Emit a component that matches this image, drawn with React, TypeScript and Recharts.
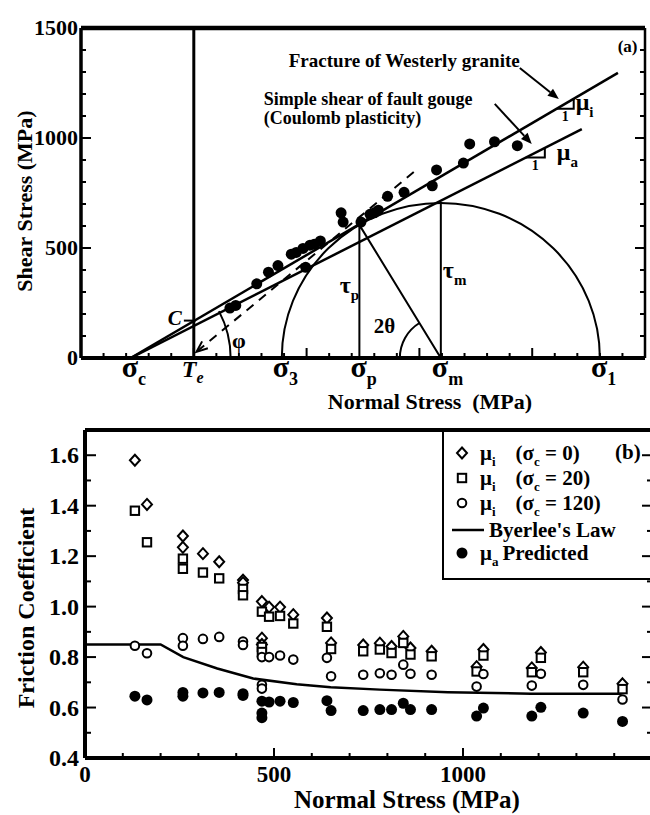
import React from 'react';
import {
  ComposedChart,
  Scatter,
  Line,
  XAxis,
  YAxis,
  ReferenceLine,
  ReferenceDot,
  ReferenceArea,
  Legend,
} from 'recharts';

const FONT = '"Liberation Serif", "Times New Roman", serif';
const INK = '#000';

// ---------- panel (a): Mohr-Coulomb construction ----------
const normalTicksA = [-500, -400, -300, -200, -100, 0, 100, 200, 300, 400, 500, 600, 700, 800, 900, 1000, 1100, 1200, 1300, 1400, 1500, 1600, 1700, 1800, 1900, 2000];
const normalMajorsA = [-500, 0, 500, 1000, 1500, 2000];
const normalLabelsA = [0, 500, 1000, 1500];
const shearTicks = [0, 100, 200, 300, 400, 500, 600, 700, 800, 900, 1000, 1100, 1200, 1300, 1400, 1500];
const shearLabels = [0, 500, 1000, 1500];

// measured failure points (normal stress, shear stress) in MPa
const graniteData = [
  { s: 160, tau: 227 }, { s: 186, tau: 239 }, { s: 279, tau: 337 }, { s: 331, tau: 390 },
  { s: 373, tau: 420 }, { s: 432, tau: 472 }, { s: 454, tau: 480 }, { s: 484, tau: 498 },
  { s: 515, tau: 513 }, { s: 534, tau: 517 }, { s: 561, tau: 532 }, { s: 496, tau: 412 },
  { s: 653, tau: 660 }, { s: 662, tau: 618 }, { s: 741, tau: 618 }, { s: 781, tau: 653 },
  { s: 800, tau: 660 }, { s: 818, tau: 672 }, { s: 859, tau: 735 }, { s: 932, tau: 753 },
  { s: 1057, tau: 783 }, { s: 1076, tau: 855 }, { s: 1195, tau: 886 }, { s: 1223, tau: 973 },
  { s: 1333, tau: 983 }, { s: 1434, tau: 965 },
];

const graniteFit = [{ s: -280, tau: 0 }, { s: 1880, tau: 1296 }];
const gougeFit = [{ s: -280, tau: 0 }, { s: 1720, tau: 1040 }];
const tangentFit = [{ s: 975, tau: 845 }, { s: 12, tau: 28 }];
const slopeTriI = [{ s: 1609, tau: 1133 }, { s: 1684, tau: 1133 }, { s: 1684, tau: 1178 }];
const slopeTriA = [{ s: 1472, tau: 911 }, { s: 1556, tau: 911 }, { s: 1556, tau: 955 }];

const sigmaC = -280;
const sigma3 = 390;
const sigma1 = 1800;
const sigmaM = 1095;
const tauM = 705;
const sigmaP = 734;
const tauP = 605;
const cohesion = 170;

const construction = [
  { s: sigmaP, tau: 0 }, { s: sigmaP, tau: tauP }, { s: sigmaM, tau: 0 }, { s: sigmaM, tau: tauM },
];

const stressMarks = [
  { key: 'c', s: sigmaC, sym: 'σ', sub: 'c' },
  { key: 'e', s: 0, sym: 'T', sub: 'e' },
  { key: '3', s: sigma3, sym: 'σ', sub: '3' },
  { key: 'p', s: sigmaP, sym: 'σ', sub: 'p' },
  { key: 'm', s: sigmaM, sym: 'σ', sub: 'm' },
  { key: '1', s: sigma1, sym: 'σ', sub: '1' },
];

// ---------- panel (b): friction coefficients ----------
const normalTicksB = [0, 100, 200, 300, 400, 500, 600, 700, 800, 900, 1000, 1100, 1200, 1300, 1400, 1500];
const normalLabelsB = [0, 500, 1000, 1500];
const muTicks = [0.4, 0.5, 0.6, 0.7, 0.8, 0.9, 1.0, 1.1, 1.2, 1.3, 1.4, 1.5, 1.6, 1.7];
const muLabels = [0.4, 0.6, 0.8, 1.0, 1.2, 1.4, 1.6];

const muI0 = [
  { s: 132, mu: 1.58 }, { s: 164, mu: 1.405 }, { s: 259, mu: 1.28 }, { s: 259, mu: 1.235 },
  { s: 312, mu: 1.21 }, { s: 355, mu: 1.178 }, { s: 418, mu: 1.105 }, { s: 418, mu: 1.095 },
  { s: 468, mu: 1.02 }, { s: 468, mu: 0.875 }, { s: 468, mu: 0.85 }, { s: 487, mu: 0.998 },
  { s: 516, mu: 0.998 }, { s: 551, mu: 0.968 }, { s: 640, mu: 0.955 }, { s: 651, mu: 0.856 },
  { s: 736, mu: 0.848 }, { s: 780, mu: 0.855 }, { s: 811, mu: 0.842 }, { s: 842, mu: 0.882 },
  { s: 861, mu: 0.836 }, { s: 917, mu: 0.823 }, { s: 1036, mu: 0.762 }, { s: 1054, mu: 0.83 },
  { s: 1182, mu: 0.757 }, { s: 1206, mu: 0.818 }, { s: 1318, mu: 0.76 }, { s: 1422, mu: 0.694 },
];
const muI20 = [
  { s: 132, mu: 1.38 }, { s: 164, mu: 1.255 }, { s: 259, mu: 1.19 }, { s: 259, mu: 1.15 },
  { s: 312, mu: 1.135 }, { s: 355, mu: 1.112 }, { s: 418, mu: 1.07 }, { s: 418, mu: 1.045 },
  { s: 468, mu: 0.98 }, { s: 468, mu: 0.84 }, { s: 468, mu: 0.82 }, { s: 487, mu: 0.96 },
  { s: 516, mu: 0.963 }, { s: 551, mu: 0.933 }, { s: 640, mu: 0.92 }, { s: 651, mu: 0.832 },
  { s: 736, mu: 0.823 }, { s: 780, mu: 0.83 }, { s: 811, mu: 0.816 }, { s: 842, mu: 0.856 },
  { s: 861, mu: 0.81 }, { s: 917, mu: 0.803 }, { s: 1036, mu: 0.743 }, { s: 1054, mu: 0.806 },
  { s: 1182, mu: 0.74 }, { s: 1206, mu: 0.797 }, { s: 1318, mu: 0.74 }, { s: 1422, mu: 0.673 },
];
const muI120 = [
  { s: 132, mu: 0.845 }, { s: 164, mu: 0.815 }, { s: 259, mu: 0.875 }, { s: 259, mu: 0.845 },
  { s: 312, mu: 0.872 }, { s: 355, mu: 0.88 }, { s: 418, mu: 0.862 }, { s: 418, mu: 0.848 },
  { s: 468, mu: 0.8 }, { s: 468, mu: 0.69 }, { s: 468, mu: 0.675 }, { s: 487, mu: 0.8 },
  { s: 516, mu: 0.806 }, { s: 551, mu: 0.79 }, { s: 640, mu: 0.797 }, { s: 651, mu: 0.724 },
  { s: 736, mu: 0.73 }, { s: 780, mu: 0.736 }, { s: 811, mu: 0.73 }, { s: 842, mu: 0.77 },
  { s: 861, mu: 0.734 }, { s: 917, mu: 0.73 }, { s: 1036, mu: 0.683 }, { s: 1054, mu: 0.733 },
  { s: 1182, mu: 0.687 }, { s: 1206, mu: 0.734 }, { s: 1318, mu: 0.69 }, { s: 1422, mu: 0.632 },
];
const muA = [
  { s: 132, mu: 0.645 }, { s: 164, mu: 0.63 }, { s: 259, mu: 0.66 }, { s: 259, mu: 0.645 },
  { s: 312, mu: 0.658 }, { s: 355, mu: 0.66 }, { s: 418, mu: 0.655 }, { s: 418, mu: 0.648 },
  { s: 468, mu: 0.625 }, { s: 468, mu: 0.578 }, { s: 468, mu: 0.56 }, { s: 487, mu: 0.622 },
  { s: 516, mu: 0.625 }, { s: 551, mu: 0.62 }, { s: 640, mu: 0.627 }, { s: 651, mu: 0.588 },
  { s: 736, mu: 0.588 }, { s: 780, mu: 0.592 }, { s: 811, mu: 0.592 }, { s: 842, mu: 0.617 },
  { s: 861, mu: 0.592 }, { s: 917, mu: 0.592 }, { s: 1036, mu: 0.566 }, { s: 1054, mu: 0.598 },
  { s: 1182, mu: 0.566 }, { s: 1206, mu: 0.601 }, { s: 1318, mu: 0.578 }, { s: 1422, mu: 0.545 },
];
const byerlee = [
  { s: 0, mu: 0.85 }, { s: 200, mu: 0.85 }, { s: 260, mu: 0.8 }, { s: 350, mu: 0.755 },
  { s: 445, mu: 0.715 }, { s: 560, mu: 0.692 }, { s: 650, mu: 0.68 }, { s: 780, mu: 0.671 },
  { s: 960, mu: 0.661 }, { s: 1180, mu: 0.655 }, { s: 1420, mu: 0.655 },
];

// ---------- helpers ----------
const txt = (size: number, extra: any = {}) => ({
  fontFamily: FONT, fontWeight: 700, fontSize: size, fill: INK, ...extra,
});

const near = (arr: number[], v: number) => arr.some((m) => Math.abs(m - v) < 1e-6);

type Side = 'left' | 'right' | 'top' | 'bottom';

function makeTick(side: Side, cfg: any) {
  const { majors, labels = [], fmt = String, fontSize = 22, gap = 3, major = 10, minor = 5 } = cfg;
  return (props: any) => {
    const x = Number(props.x);
    const y = Number(props.y);
    const v = props.payload.value;
    const len = near(majors, v) ? major : minor;
    const dx = side === 'left' ? len : side === 'right' ? -len : 0;
    const dy = side === 'top' ? len : side === 'bottom' ? -len : 0;
    let label = null;
    if (near(labels, v)) {
      if (side === 'left') {
        label = <text {...txt(fontSize)} x={x - gap} y={y + fontSize * 0.34} textAnchor="end">{fmt(v)}</text>;
      } else if (side === 'top') {
        label = <text {...txt(fontSize)} x={x} y={y - gap} textAnchor="middle">{fmt(v)}</text>;
      } else if (side === 'bottom') {
        label = <text {...txt(fontSize)} x={x} y={y + gap} textAnchor="middle">{fmt(v)}</text>;
      }
    }
    return (
      <g>
        <line x1={x} y1={y} x2={x + dx} y2={y + dy} stroke={INK} strokeWidth={2} />
        {label}
      </g>
    );
  };
}

function note(key: string, s: number, tau: number, render: (cx: number, cy: number) => React.ReactElement) {
  return (
    <ReferenceDot key={key} x={s} y={tau} r={0} ifOverflow="visible" shape={(p: any) => render(p.cx, p.cy)} />
  );
}

const arrowShape = (dashed: boolean, open: boolean) => (p: any) => {
  const { x1, y1, x2, y2 } = p;
  const a = Math.atan2(y2 - y1, x2 - x1);
  const L = 11;
  const W = 4.5;
  const bx = x2 - L * Math.cos(a);
  const by = y2 - L * Math.sin(a);
  const lx = bx + W * Math.sin(a);
  const ly = by - W * Math.cos(a);
  const rx = bx - W * Math.sin(a);
  const ry = by + W * Math.cos(a);
  return (
    <g>
      <line x1={x1} y1={y1} x2={open ? x2 : bx} y2={open ? y2 : by} stroke={INK} strokeWidth={2}
        strokeDasharray={dashed ? '9 7' : undefined} />
      {open
        ? <polyline points={`${lx},${ly} ${x2},${y2} ${rx},${ry}`} fill="none" stroke={INK} strokeWidth={2} />
        : <polygon points={`${lx},${ly} ${x2},${y2} ${rx},${ry}`} fill={INK} />}
    </g>
  );
};

const mohrArc = (p: any) => (
  <path
    d={`M${p.x},${p.y + p.height} A${p.width / 2},${p.height} 0 0 1 ${p.x + p.width},${p.y + p.height}`}
    fill="none" stroke={INK} strokeWidth={2}
  />
);

const solidDot = (r: number) => (p: any) => <circle cx={p.cx} cy={p.cy} r={r} fill={INK} />;
const Diamond = (p: any) => (
  <path d={`M${p.cx},${p.cy - 5.5}L${p.cx + 5},${p.cy}L${p.cx},${p.cy + 5.5}L${p.cx - 5},${p.cy}Z`}
    fill="#fff" stroke={INK} strokeWidth={2} />
);
const Square = (p: any) => (
  <rect x={p.cx - 4.2} y={p.cy - 4.2} width={8.4} height={8.4} fill="#fff" stroke={INK} strokeWidth={2} />
);
const OpenCircle = (p: any) => <circle cx={p.cx} cy={p.cy} r={4.3} fill="#fff" stroke={INK} strokeWidth={2} />;

// ---------- panel (a) ----------
function PanelA() {
  return (
    <ComposedChart width={650} height={420} margin={{ top: 0, right: 0, bottom: 0, left: 0 }}>
      <XAxis dataKey="s" type="number" domain={[-500, 2000]} allowDataOverflow ticks={normalTicksA} interval={0}
        height={62} tickSize={0} tickMargin={0} tickLine={false} axisLine={{ stroke: INK, strokeWidth: 4 }}
        tick={makeTick('bottom', { majors: normalMajorsA })}
        label={() => (
          <text {...txt(22)} x={430} y={409} textAnchor="middle" style={{ whiteSpace: 'pre' }}>Normal Stress  (MPa)</text>
        )} />
      <XAxis xAxisId="top" orientation="top" type="number" domain={[-500, 2000]} allowDataOverflow ticks={normalTicksA}
        interval={0} height={28} tickSize={0} tickMargin={0} tickLine={false} axisLine={{ stroke: INK, strokeWidth: 4.5 }}
        tick={makeTick('top', { majors: normalMajorsA, labels: normalLabelsA, gap: 4 })} />
      <YAxis type="number" domain={[0, 1500]} allowDataOverflow ticks={shearTicks} interval={0} width={81}
        tickSize={0} tickMargin={0} tickLine={false} axisLine={{ stroke: INK, strokeWidth: 3.5 }}
        tick={makeTick('left', { majors: shearLabels, labels: shearLabels, gap: 3 })}
        label={() => (
          <text {...txt(22)} transform="translate(24,201) rotate(-90)" textAnchor="middle" dominantBaseline="central">
            Shear Stress (MPa)
          </text>
        )} />
      <YAxis yAxisId="right" orientation="right" type="number" domain={[0, 1500]} allowDataOverflow ticks={shearTicks}
        interval={0} width={5} tickSize={0} tickMargin={0} tickLine={false} axisLine={{ stroke: INK, strokeWidth: 2.5 }}
        tick={makeTick('right', { majors: shearLabels })} />

      <ReferenceLine x={0} stroke={INK} strokeWidth={3} />
      <ReferenceArea x1={sigma3} x2={sigma1} y1={0} y2={tauM} ifOverflow="visible" shape={mohrArc} />
      <Line data={construction} dataKey="tau" stroke={INK} strokeWidth={2} dot={false} activeDot={false} isAnimationActive={false} />
      <Line data={graniteFit} dataKey="tau" stroke={INK} strokeWidth={2.5} dot={false} activeDot={false} isAnimationActive={false} />
      <Line data={gougeFit} dataKey="tau" stroke={INK} strokeWidth={2.5} dot={false} activeDot={false} isAnimationActive={false} />
      <Line data={slopeTriI} dataKey="tau" stroke={INK} strokeWidth={2} dot={false} activeDot={false} isAnimationActive={false} />
      <Line data={slopeTriA} dataKey="tau" stroke={INK} strokeWidth={2} dot={false} activeDot={false} isAnimationActive={false} />
      <ReferenceLine segment={[{ x: tangentFit[0].s, y: tangentFit[0].tau }, { x: tangentFit[1].s, y: tangentFit[1].tau }]}
        shape={arrowShape(true, true)} />
      <ReferenceLine segment={[{ x: -44, y: cohesion }, { x: 8, y: cohesion }]} stroke={INK} strokeWidth={2} />
      <ReferenceLine segment={[{ x: 1445, y: 1318 }, { x: 1618, y: 1177 }]} shape={arrowShape(false, false)} />
      <ReferenceLine segment={[{ x: 1334, y: 1155 }, { x: 1498, y: 973 }]} shape={arrowShape(false, false)} />

      {note('phiArc', sigmaC, 0, (cx, cy) => (
        <path d={`M${cx + 100},${cy} A100,100 0 0 0 ${cx + 88.3},${cy - 46.9}`} fill="none" stroke={INK} strokeWidth={2} />
      ))}
      {note('thetaArc', sigmaM, 0, (cx, cy) => (
        <path d={`M${cx - 41},${cy} A41,41 0 0 1 ${cx - 21.4},${cy - 35}`} fill="none" stroke={INK} strokeWidth={2} />
      ))}

      <Scatter data={graniteData} dataKey="tau" shape={solidDot(5.5)} isAnimationActive={false} />

      {stressMarks.map((m) => note(`mark-${m.key}`, m.s, 0, (cx, cy) => (
        m.sym === 'T'
          ? <text {...txt(24, { fontStyle: 'italic' })} x={cx - 12} y={cy + 19}>T<tspan fontSize={16} dy={6}>{m.sub}</tspan></text>
          : <text {...txt(30)} x={cx - 9} y={cy + 19}>{m.sym}<tspan fontSize={18} dy={8}>{m.sub}</tspan></text>
      )))}

      {note('frac', 421, 1323, (cx, cy) => <text {...txt(19)} x={cx} y={cy}>Fracture of Westerly granite</text>)}
      {note('gouge', 310, 1150, (cx, cy) => <text {...txt(18)} x={cx} y={cy}>Simple shear of fault gouge</text>)}
      {note('coul', 310, 1062, (cx, cy) => <text {...txt(18)} x={cx} y={cy}>(Coulomb plasticity)</text>)}
      {note('a', 1879, 1391, (cx, cy) => <text {...txt(17)} x={cx} y={cy}>(a)</text>)}
      {note('C', -84, 150, (cx, cy) => <text {...txt(21, { fontStyle: 'italic' })} x={cx} y={cy} textAnchor="middle">C</text>)}
      {note('phi', 200, 45, (cx, cy) => <text {...txt(22)} x={cx} y={cy} textAnchor="middle">φ</text>)}
      {note('taup', 647, 295, (cx, cy) => <text {...txt(24)} x={cx} y={cy}>τ<tspan fontSize={15} dy={7}>p</tspan></text>)}
      {note('taum', 1104, 364, (cx, cy) => <text {...txt(24)} x={cx} y={cy}>τ<tspan fontSize={15} dy={7}>m</tspan></text>)}
      {note('theta', 798, 114, (cx, cy) => <text {...txt(21)} x={cx} y={cy}>2θ</text>)}
      {note('mui', 1693, 1127, (cx, cy) => <text {...txt(24)} x={cx} y={cy}>μ<tspan fontSize={15} dy={7}>i</tspan></text>)}
      {note('mua', 1609, 900, (cx, cy) => <text {...txt(24)} x={cx} y={cy}>μ<tspan fontSize={15} dy={7}>a</tspan></text>)}
      {note('onei', 1646, 1077, (cx, cy) => <text {...txt(14)} x={cx} y={cy} textAnchor="middle">1</text>)}
      {note('onea', 1514, 855, (cx, cy) => <text {...txt(14)} x={cx} y={cy} textAnchor="middle">1</text>)}
    </ComposedChart>
  );
}

// ---------- panel (b) ----------
const sub = (t: string) => <span style={{ fontSize: 13, position: 'relative', top: 6 }}>{t}</span>;

function LegendBox() {
  const icon = (kind: string) => {
    if (kind === 'line') {
      return <svg width={32} height={24}><line x1={0} y1={12} x2={32} y2={12} stroke={INK} strokeWidth={2.5} /></svg>;
    }
    return (
      <svg width={24} height={24}>
        {kind === 'diamond' && <path d="M12,6.5L17,12L12,17.5L7,12Z" fill="#fff" stroke={INK} strokeWidth={2} />}
        {kind === 'square' && <rect x={7.8} y={7.8} width={8.4} height={8.4} fill="#fff" stroke={INK} strokeWidth={2} />}
        {kind === 'circle' && <circle cx={12} cy={12} r={4.3} fill="#fff" stroke={INK} strokeWidth={2} />}
        {kind === 'dot' && <circle cx={12} cy={12} r={5.5} fill={INK} />}
      </svg>
    );
  };
  const row = (top: number, kind: string, body: React.ReactNode, textLeft = 36) => (
    <div style={{ position: 'absolute', left: 0, top, width: 220, height: 24 }}>
      <div style={{ position: 'absolute', left: kind === 'line' ? 8 : 6, top: 0, height: 24 }}>{icon(kind)}</div>
      <div style={{ position: 'absolute', left: textLeft, top: 0, lineHeight: '24px', whiteSpace: 'pre' }}>{body}</div>
    </div>
  );
  return (
    <div style={{
      position: 'relative', width: 220, height: 150, boxSizing: 'border-box', border: '2.5px solid #000',
      borderRight: 'none', fontFamily: FONT, fontWeight: 700, fontSize: 21, color: INK,
    }}>
      {row(9, 'diamond', <span>μ{sub('i')}<span style={{ marginLeft: 20 }}>(σ{sub('c')} = 0)</span></span>)}
      {row(34, 'square', <span>μ{sub('i')}<span style={{ marginLeft: 20 }}>(σ{sub('c')} = 20)</span></span>)}
      {row(59, 'circle', <span>μ{sub('i')}<span style={{ marginLeft: 20 }}>(σ{sub('c')} = 120)</span></span>)}
      {row(86, 'line', <span>Byerlee's Law</span>, 45)}
      {row(109, 'dot', <span>μ{sub('a')}<span style={{ marginLeft: 4 }}>Predicted</span></span>)}
      <div style={{ position: 'absolute', left: 171, top: 8, lineHeight: '24px' }}>(b)</div>
    </div>
  );
}

function PanelB() {
  return (
    <ComposedChart width={660} height={395} margin={{ top: 0, right: 0, bottom: 0, left: 0 }}>
      <XAxis dataKey="s" type="number" domain={[0, 1500]} allowDataOverflow ticks={normalTicksB} interval={0}
        height={57} tickSize={0} tickMargin={0} tickLine={false} axisLine={{ stroke: INK, strokeWidth: 4 }}
        tick={makeTick('bottom', { majors: normalLabelsB, labels: [0, 500, 1000], gap: 24, fontSize: 23 })}
        label={() => (
          <text {...txt(25)} x={407} y={388} textAnchor="middle">Normal Stress (MPa)</text>
        )} />
      <XAxis xAxisId="top" orientation="top" type="number" domain={[0, 1500]} allowDataOverflow ticks={normalTicksB}
        interval={0} height={10} tickSize={0} tickMargin={0} tickLine={false} axisLine={{ stroke: INK, strokeWidth: 4 }}
        tick={makeTick('top', { majors: normalLabelsB })} />
      <YAxis type="number" domain={[0.4, 1.7]} allowDataOverflow ticks={muTicks} interval={0} width={85}
        tickSize={0} tickMargin={0} tickLine={false} axisLine={{ stroke: INK, strokeWidth: 4 }}
        tick={makeTick('left', {
          majors: muLabels, labels: muLabels, fmt: (v: number) => v.toFixed(1), gap: 6, fontSize: 24, major: 11, minor: 6,
        })}
        label={() => (
          <text {...txt(24)} transform="translate(26,188) rotate(-90)" textAnchor="middle" dominantBaseline="central">
            Friction Coefficient
          </text>
        )} />
      <YAxis yAxisId="right" orientation="right" type="number" domain={[0.4, 1.7]} allowDataOverflow ticks={muTicks}
        interval={0} width={8} tickSize={0} tickMargin={0} tickLine={false} axisLine={{ stroke: INK, strokeWidth: 3 }}
        tick={makeTick('right', { majors: muLabels })} />

      <Line data={byerlee} dataKey="mu" stroke={INK} strokeWidth={2.5} dot={false} activeDot={false} isAnimationActive={false} />
      <Scatter data={muI0} dataKey="mu" shape={Diamond} isAnimationActive={false} />
      <Scatter data={muI20} dataKey="mu" shape={Square} isAnimationActive={false} />
      <Scatter data={muI120} dataKey="mu" shape={OpenCircle} isAnimationActive={false} />
      <Scatter data={muA} dataKey="mu" shape={solidDot(5.5)} isAnimationActive={false} />

      <Legend content={() => <LegendBox />} layout="horizontal" verticalAlign="middle" align="center"
        wrapperStyle={{ left: 442, top: 10, width: 220, height: 150 }} />
    </ComposedChart>
  );
}

export default function App() {
  return (
    <div style={{ position: 'absolute', left: 0, top: 0, width: 650, height: 815, overflow: 'hidden', background: '#fff' }}>
      <PanelA />
      <PanelB />
    </div>
  );
}
